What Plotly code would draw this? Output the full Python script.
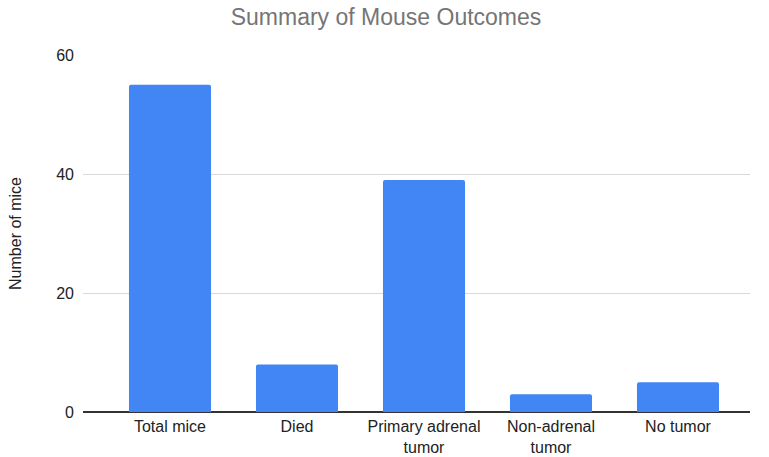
import plotly.graph_objects as go

categories = ["Total mice", "Died", "Primary adrenal<br>tumor", "Non-adrenal<br>tumor", "No tumor"]
values = [55, 8, 39, 3, 5]
y_ticks = [0, 20, 40, 60]

fig = go.Figure(go.Bar(x=categories, y=values, marker_color="#4285F4", marker_line_width=0))

fig.update_layout(
    width=769, height=457,
    margin=dict(l=83, r=19, t=55, b=45),
    paper_bgcolor="white", plot_bgcolor="white",
    font=dict(family="Liberation Sans, Arial, sans-serif", size=16, color="#222222"),
    title=dict(text="Summary of Mouse Outcomes", x=0.502, xanchor="center", y=0.963, yanchor="middle",
               font=dict(size=23, color="#757575")),
    bargap=0.354,
    barcornerradius=2,
    showlegend=False,
)
fig.update_xaxes(range=[-0.685, 4.567], showgrid=False, showline=False, zeroline=False, automargin=False,
                 ticks="", ticklabelstandoff=3, tickfont=dict(size=16, color="#222222"))
fig.update_yaxes(range=[0, 60], tickvals=y_ticks, showgrid=True, gridcolor="#d9d9d9", gridwidth=1,
                 zeroline=True, zerolinecolor="#333333", zerolinewidth=1.5, automargin=False,
                 ticks="", ticklabelstandoff=8, tickfont=dict(size=16, color="#222222"),
                 title=dict(text="Number of mice", font=dict(size=16, color="#222222"), standoff=30))

fig.write_html("out.html", config={"displayModeBar": False},
               post_script="document.body.style.margin='0';")
